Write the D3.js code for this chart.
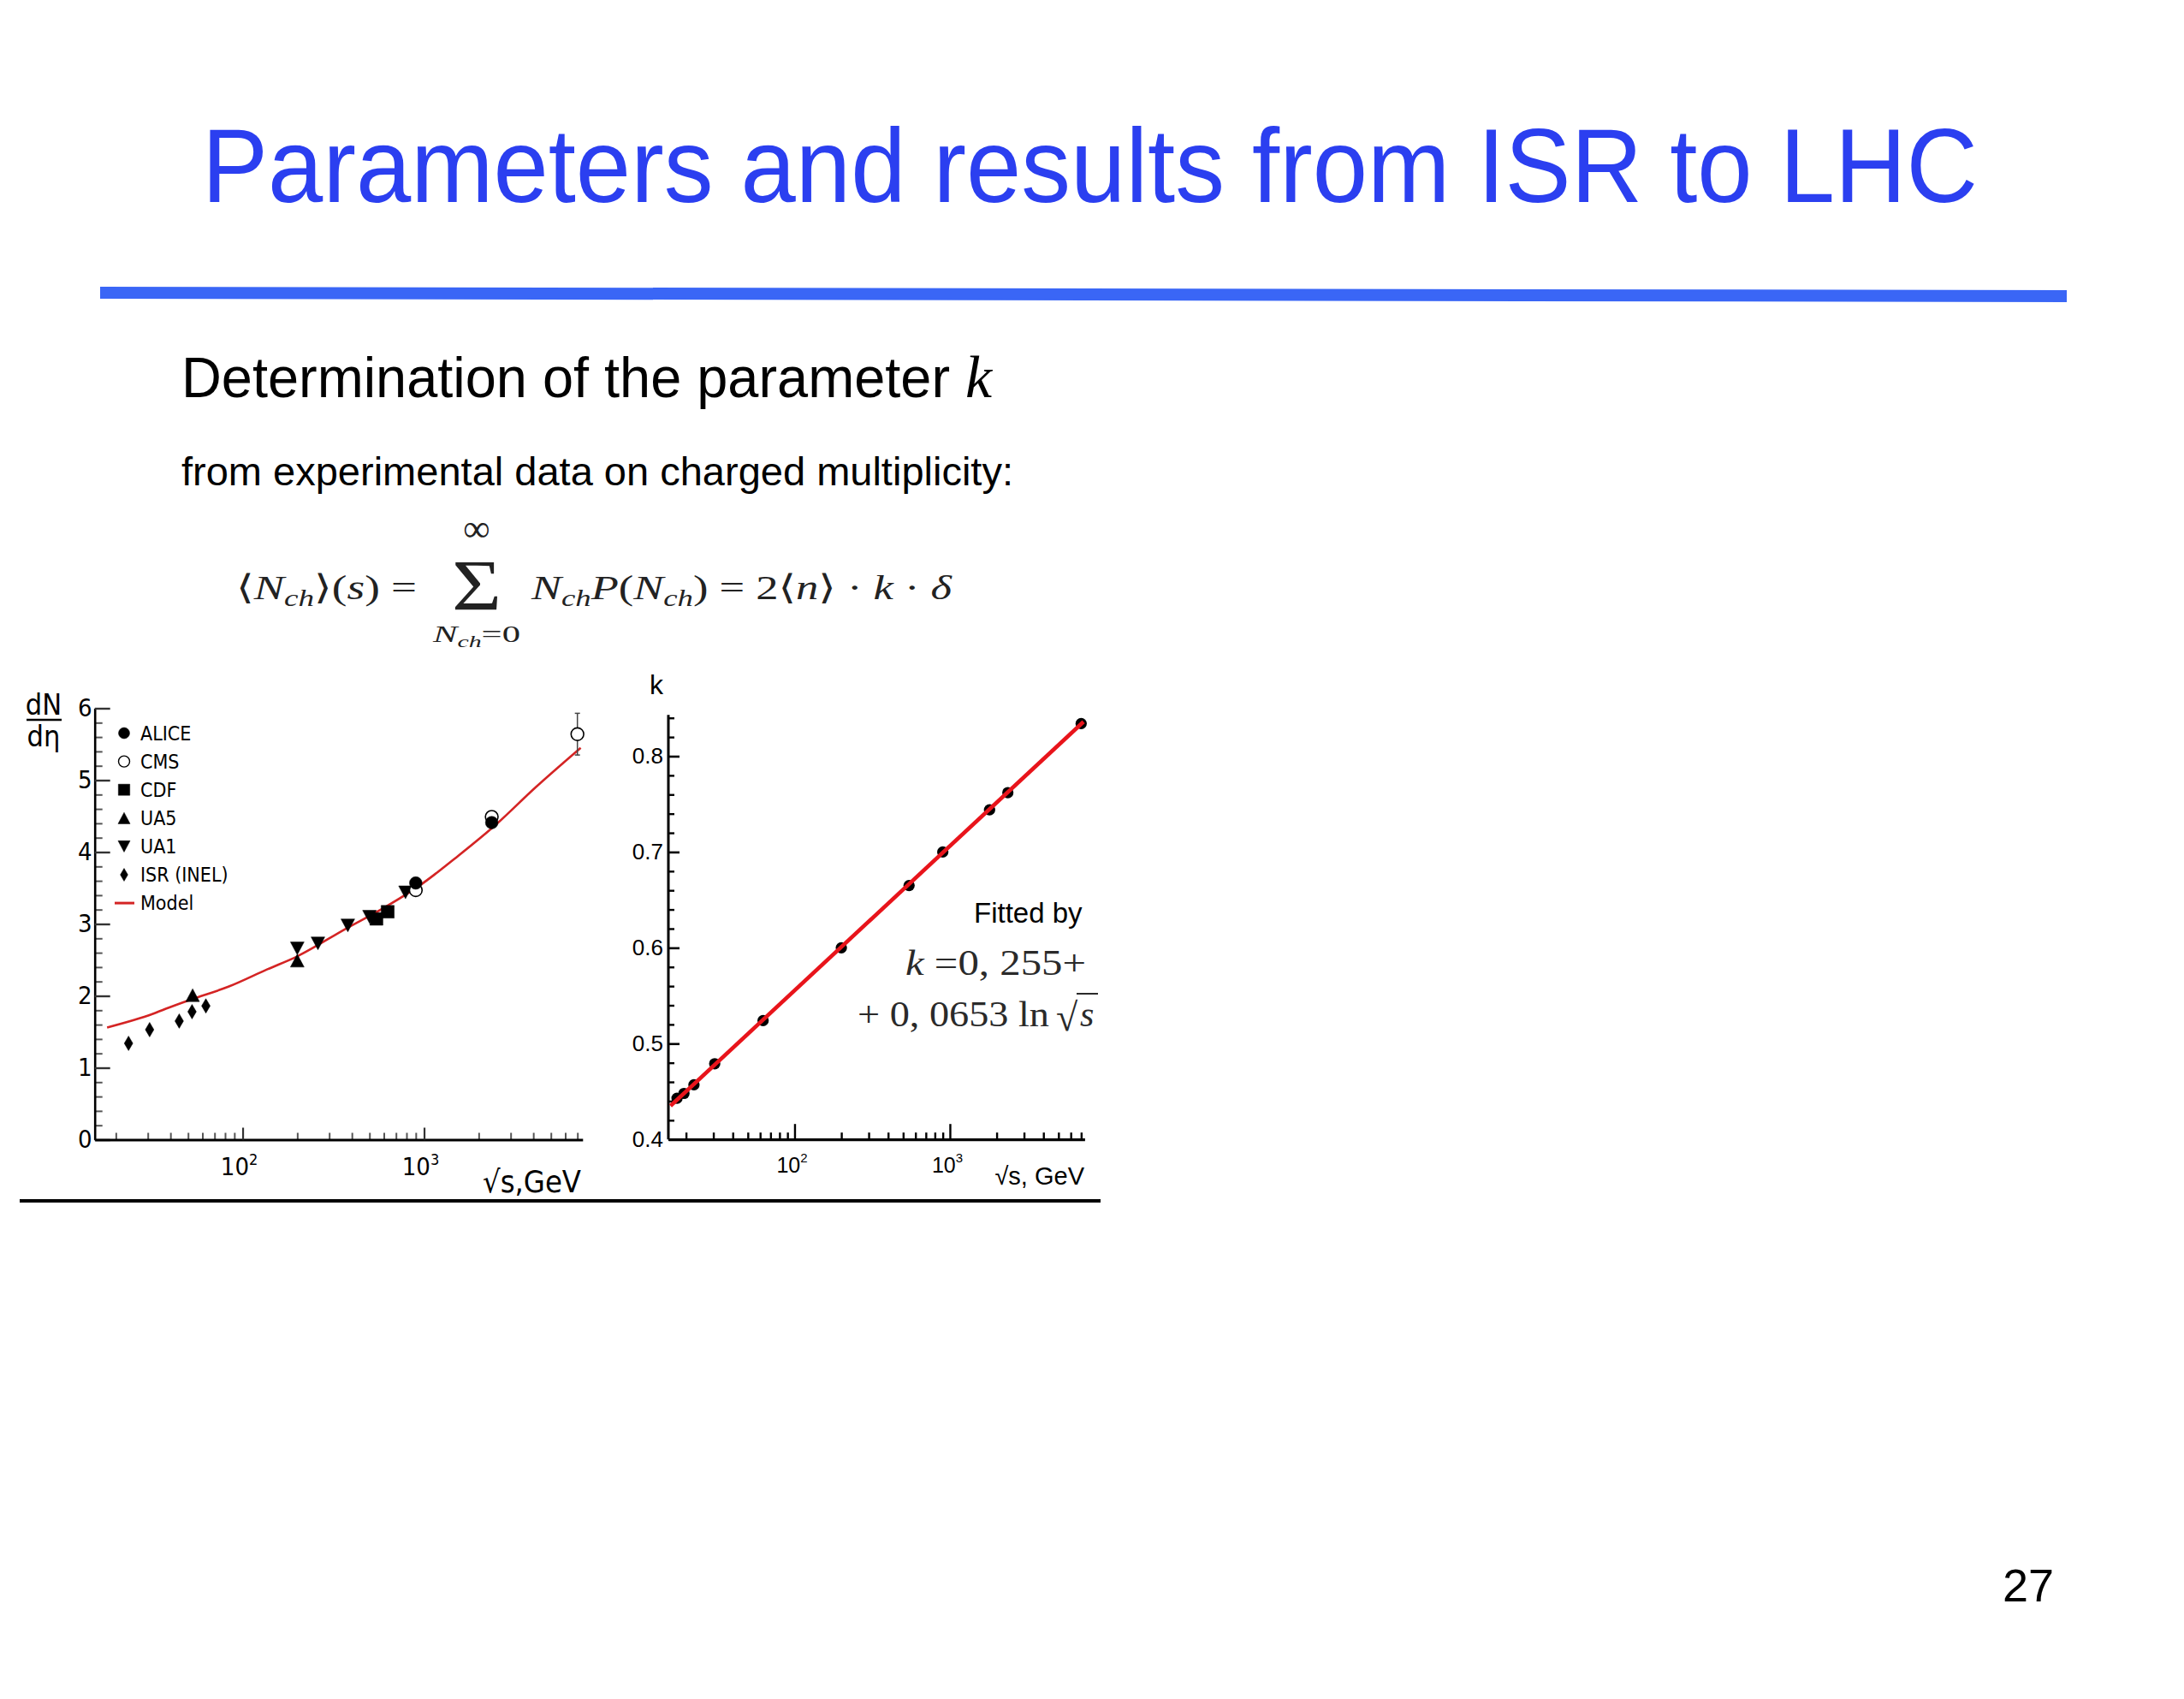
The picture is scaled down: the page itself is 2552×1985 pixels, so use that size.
<!DOCTYPE html>
<html><head><meta charset="utf-8">
<script src="https://cdn.jsdelivr.net/npm/d3@7"></script>
<style>
body{margin:0;background:#fff;}
svg{display:block;}
.cond{font-family:"DejaVu Sans Condensed","DejaVu Sans",sans-serif;font-stretch:condensed;}
.ar{font-family:"Liberation Sans",Arial,sans-serif;}
.sr{font-family:"Liberation Serif","DejaVu Serif",serif;}
</style></head><body>
<svg id="c" width="2552" height="1985"></svg>
<script>
// ---------- data: left chart (dN/deta vs sqrt(s)) ----------
const isrE = [23.5, 30.7, 44.7, 52.6, 62.7];
const isrV = [1.34, 1.53, 1.65, 1.78, 1.86];
const ua5E = [53, 200];
const ua5V = [2.01, 2.49];
const ua1E = [200, 260, 380, 500, 790];
const ua1V = [2.66, 2.73, 2.98, 3.10, 3.44];
const cdfE = [546, 630];
const cdfV = [3.07, 3.17];
const cmsE = [900, 2360, 7000];
const cmsV = [3.47, 4.49, 5.64];
const cmsErr = [0, 0, 0.29];
const aliceE = [900, 2360];
const aliceV = [3.57, 4.41];
const modelE = [17.9, 32, 39.5, 52, 84, 137, 200, 374, 587, 952, 1546, 2510, 4075, 7300];
const modelV = [1.56, 1.75, 1.84, 1.95, 2.13, 2.37, 2.55, 2.94, 3.21, 3.54, 3.95, 4.39, 4.89, 5.45];
const legendLabels = ["ALICE", "CMS", "CDF", "UA5", "UA1", "ISR (INEL)", "Model"];
const yTicksL = [0, 1, 2, 3, 4, 5, 6];
const yMinorL = [0.2,0.4,0.6,0.8,1.2,1.4,1.6,1.8,2.2,2.4,2.6,2.8,3.2,3.4,3.6,3.8,4.2,4.4,4.6,4.8,5.2,5.4,5.6,5.8];
// ---------- data: right chart (k vs sqrt(s)) ----------
const kE = [17.5, 19.4, 22.5, 30.6, 62.7, 200, 546, 900, 1800, 2360, 7000];
const kV = [0.443, 0.448, 0.457, 0.479, 0.524, 0.600, 0.665, 0.700, 0.744, 0.762, 0.834];
const fitE = [15.9, 7250];
const fitV = [0.435, 0.836];
const yTicksR = [0.4, 0.5, 0.6, 0.7, 0.8];
const yMinorR = [0.42,0.44,0.46,0.48,0.52,0.54,0.56,0.58,0.62,0.64,0.66,0.68,0.72,0.74,0.76,0.78,0.82,0.84];
// ---------- shared log x ticks ----------
const xMajor = [100, 1000];
const xMajorExp = ["2", "3"];
const xMinor = [20,30,40,50,60,70,80,90,200,300,400,500,600,700,800,900,2000,3000,4000,5000,6000,7000];

const svg = d3.select("#c");

// ---------- slide header ----------
svg.append("text").attr("x", 236).attr("y", 236).attr("class","ar")
  .attr("font-size", 122).attr("fill", "#2b3ff0")
  .attr("textLength", 2075).attr("lengthAdjust","spacingAndGlyphs")
  .text("Parameters and results from ISR to LHC");
svg.append("path").attr("d","M117,335 L2415,339 L2415,353 L117,349 Z").attr("fill","#3a66f6");

svg.append("text").attr("x", 212).attr("y", 464).attr("class","ar")
  .attr("font-size", 66).attr("fill","#000")
  .attr("textLength", 898).attr("lengthAdjust","spacingAndGlyphs")
  .text("Determination of the parameter");
svg.append("text").attr("x", 1128).attr("y", 464).attr("class","sr")
  .attr("font-size", 70).attr("font-style","italic").text("k");
svg.append("text").attr("x", 212).attr("y", 567).attr("class","ar")
  .attr("font-size", 47).attr("fill","#000")
  .attr("textLength", 972).attr("lengthAdjust","spacingAndGlyphs")
  .text("from experimental data on charged multiplicity:");

// formula
const fcol = "#222";
function ftext(parent, x, y, size, parts, len){
  const t = parent.append("text").attr("x", x).attr("y", y).attr("class","sr")
    .attr("font-size", size).attr("fill", fcol);
  parts.forEach(p => {
    const s = t.append("tspan").text(p.t).attr("font-size", size * (p.sz || 1));
    if (p.i) s.attr("font-style","italic");
    if (p.dy) s.attr("dy", p.dy);
  });
  if (len) t.attr("textLength", len).attr("lengthAdjust","spacingAndGlyphs");
  return t;
}
ftext(svg, 276, 700, 40, [
  {t:"⟨"},{t:"N",i:1},{t:"ch",i:1,sz:0.7,dy:8},{t:"⟩(",dy:-8},{t:"s",i:1},{t:") ="}
], 211);
svg.append("text").attr("x", 528).attr("y", 713).attr("class","sr").attr("font-size", 84)
  .attr("textLength", 58).attr("lengthAdjust","spacingAndGlyphs")
  .attr("fill", fcol).text("Σ");
svg.append("text").attr("x", 557).attr("y", 632).attr("class","sr").attr("font-size", 44)
  .attr("text-anchor","middle").attr("fill", fcol).text("∞");
ftext(svg, 506, 750, 28, [{t:"N",i:1},{t:"ch",i:1,sz:0.7,dy:6},{t:"=0",dy:-6}], 102);
ftext(svg, 621, 700, 40, [
  {t:"N",i:1},{t:"ch",i:1,sz:0.7,dy:8},{t:"P",i:1,dy:-8},{t:"("},{t:"N",i:1},{t:"ch",i:1,sz:0.7,dy:8},
  {t:")",dy:-8},{t:"  = 2⟨"},{t:"n",i:1},{t:"⟩ · "},{t:"k",i:1},{t:" · "},{t:"δ",i:1}
], 491);

// ---------- left chart ----------
const xL = d3.scaleLog().domain([15.3, 7480]).range([110.7, 680.8]);
const yL = d3.scaleLinear().domain([0, 6]).range([1331.5, 827.5]);
const gL = svg.append("g");

// y axis
gL.append("g").attr("transform",`translate(${xL.range()[0]},0)`)
  .call(d3.axisLeft(yL).tickValues(yMinorL).tickSize(-9).tickFormat(""))
  .call(g => { g.select(".domain").remove(); g.selectAll("line").attr("stroke","#555").attr("stroke-width",2); });
gL.append("g").attr("transform",`translate(${xL.range()[0]},0)`)
  .call(d3.axisLeft(yL).tickValues(yTicksL).tickSize(-18).tickSizeOuter(0).tickPadding(3).tickFormat(d3.format("d")))
  .call(g => {
    g.select(".domain").attr("stroke","#000").attr("stroke-width",2.6);
    g.selectAll("line").attr("stroke","#333").attr("stroke-width",2.4);
    g.selectAll("text").attr("class","cond").attr("font-size",29).attr("fill","#000");
  });
// x axis
gL.append("g").attr("transform",`translate(0,${yL.range()[0]})`)
  .call(d3.axisBottom(xL).tickValues(xMinor).tickSize(-8).tickFormat(""))
  .call(g => { g.select(".domain").remove(); g.selectAll("line").attr("stroke","#555").attr("stroke-width",2); });
gL.append("g").attr("transform",`translate(0,${yL.range()[0]})`)
  .call(d3.axisBottom(xL).tickValues(xMajor).tickSize(-14).tickSizeOuter(0).tickFormat(""))
  .call(g => {
    g.select(".domain").attr("stroke","#000").attr("stroke-width",3);
    g.selectAll("line").attr("stroke","#333").attr("stroke-width",2.2);
  });
xMajor.forEach((v, i) => {
  const t = gL.append("text").attr("class","cond").attr("x", xL(v) - 4).attr("y", 1373)
    .attr("font-size", 29).attr("text-anchor","middle").attr("fill","#000");
  t.append("tspan").text("10");
  t.append("tspan").attr("font-size", 18).attr("dy", -12).text(xMajorExp[i]);
});
gL.append("text").attr("class","cond").attr("x", 679).attr("y", 1393).attr("font-size", 36)
  .attr("text-anchor","end").attr("fill","#000").text("√s,GeV");
// dN/deta label
gL.append("text").attr("class","cond").attr("x", 51).attr("y", 835).attr("font-size", 34)
  .attr("text-anchor","middle").text("dN");
gL.append("line").attr("x1", 31).attr("x2", 72).attr("y1", 841).attr("y2", 841)
  .attr("stroke","#000").attr("stroke-width", 2.5);
gL.append("text").attr("class","cond").attr("x", 51).attr("y", 872).attr("font-size", 34)
  .attr("text-anchor","middle").text("dη");

// marker shapes
const shapes = {
  circle: s => d3.arc()({innerRadius:0, outerRadius:7.4*s, startAngle:0, endAngle:2*Math.PI}),
  square: s => `M${-7.6*s},${-7.4*s}h${15.2*s}v${14.8*s}h${-15.2*s}Z`,
  up: s => `M${-8*s},${7.5*s}L${8*s},${7.5*s}L0,${-7.5*s}Z`,
  down: s => `M${-8*s},${-7.5*s}L${8*s},${-7.5*s}L0,${7.5*s}Z`,
  diamond: s => `M0,${-8.5*s}L${5*s},0L0,${8.5*s}L${-5*s},0Z`
};
function series(E, V, shape, open){
  gL.append("g").selectAll("path").data(E.map((e,i)=>[e,V[i]])).join("path")
    .attr("transform", d => `translate(${xL(d[0])},${yL(d[1])})`)
    .attr("d", shapes[shape](1))
    .attr("fill", open ? "#fff" : "#000")
    .attr("stroke","#000").attr("stroke-width", open ? 1.6 : 0.5);
}
// model curve
gL.append("path").datum(modelE.map((e,i)=>[e,modelV[i]]))
  .attr("d", d3.line().x(d=>xL(d[0])).y(d=>yL(d[1])).curve(d3.curveMonotoneX))
  .attr("fill","none").attr("stroke","#d42424").attr("stroke-width",2.6);
// CMS error bars
gL.append("g").selectAll("g").data(cmsE.map((e,i)=>[e,cmsV[i],cmsErr[i]]).filter(d=>d[2]>0)).join("g")
  .each(function(d){
    const g = d3.select(this), x = xL(d[0]);
    g.append("line").attr("x1",x).attr("x2",x).attr("y1",yL(d[1]+d[2])).attr("y2",yL(d[1]-d[2]))
      .attr("stroke","#444").attr("stroke-width",1.5);
    [d[1]+d[2], d[1]-d[2]].forEach(v => g.append("line").attr("x1",x-3).attr("x2",x+3)
      .attr("y1",yL(v)).attr("y2",yL(v)).attr("stroke","#444").attr("stroke-width",1.5));
  });
series(isrE, isrV, "diamond");
series(ua5E, ua5V, "up");
series(ua1E, ua1V, "down");
series(cdfE, cdfV, "square");
series(cmsE, cmsV, "circle", true);
series(aliceE, aliceV, "circle");

// legend
const legShapes = ["circle","circle","square","up","down","diamond","line"];
const legOpen = [false,true,false,false,false,false,false];
const leg = gL.append("g");
legendLabels.forEach((lab, i) => {
  const y = 856.5 + i * 33.1;
  if (legShapes[i] === "line") {
    leg.append("line").attr("x1",134).attr("x2",157).attr("y1",y).attr("y2",y)
      .attr("stroke","#d42424").attr("stroke-width",3);
  } else {
    leg.append("path").attr("transform",`translate(145,${y})`).attr("d", shapes[legShapes[i]](0.88))
      .attr("fill", legOpen[i] ? "#fff" : "#000").attr("stroke","#000").attr("stroke-width", legOpen[i]?1.4:0.5);
  }
  leg.append("text").attr("class","cond").attr("x",164).attr("y", y + 8.3)
    .attr("font-size", 23).attr("fill","#000").text(lab);
});

// ---------- right chart ----------
const xR = d3.scaleLog().domain([15.4, 7370]).range([781, 1267.4]);
const yR = d3.scaleLinear().domain([0.4, 0.8]).range([1331.2, 883.5]);
const gR = svg.append("g");
gR.append("g").attr("transform",`translate(${xR.range()[0]},0)`)
  .call(d3.axisLeft(yR).tickValues(yMinorR).tickSize(-7).tickFormat(""))
  .call(g => { g.select(".domain").remove(); g.selectAll("line").attr("stroke","#000").attr("stroke-width",2.4); });
gR.append("g").attr("transform",`translate(${xR.range()[0]},0)`)
  .call(d3.axisLeft(yR).tickValues(yTicksR).tickSize(-13).tickSizeOuter(0).tickPadding(6).tickFormat(d3.format(".1f")))
  .call(g => {
    g.select(".domain").remove();
    g.selectAll("line").attr("stroke","#000").attr("stroke-width",2.6);
    g.selectAll("text").attr("class","ar").attr("font-size",26).attr("fill","#000");
  });
gR.append("line").attr("x1", xR.range()[0]).attr("x2", xR.range()[0])
  .attr("y1", yR(0.4)).attr("y2", yR(0.843)).attr("stroke","#000").attr("stroke-width",3);
gR.append("g").attr("transform",`translate(0,${yR(0.4)})`)
  .call(d3.axisBottom(xR).tickValues(xMinor).tickSize(-8).tickFormat(""))
  .call(g => { g.select(".domain").remove(); g.selectAll("line").attr("stroke","#000").attr("stroke-width",2.4); });
gR.append("g").attr("transform",`translate(0,${yR(0.4)})`)
  .call(d3.axisBottom(xR).tickValues(xMajor).tickSize(-18).tickSizeOuter(0).tickFormat(""))
  .call(g => {
    g.select(".domain").attr("stroke","#000").attr("stroke-width",3.2);
    g.selectAll("line").attr("stroke","#000").attr("stroke-width",2.4);
  });
xMajor.forEach((v, i) => {
  const t = gR.append("text").attr("class","ar").attr("x", xR(v) - 3).attr("y", 1370)
    .attr("font-size", 25).attr("text-anchor","middle").attr("fill","#000");
  t.append("tspan").text("10");
  t.append("tspan").attr("font-size", 15).attr("dy", -12).text(xMajorExp[i]);
});
gR.append("text").attr("class","ar").attr("x", 1267).attr("y", 1384).attr("font-size", 29)
  .attr("text-anchor","end").attr("fill","#000").text("√s, GeV");
gR.append("text").attr("class","ar").attr("x", 759).attr("y", 811).attr("font-size", 32)
  .attr("fill","#000").text("k");
// points then fit line on top
gR.append("g").selectAll("circle").data(kE.map((e,i)=>[e,kV[i]])).join("circle")
  .attr("cx", d=>xR(d[0])).attr("cy", d=>yR(d[1])).attr("r", 6.6).attr("fill","#000");
gR.append("path").datum(fitE.map((e,i)=>[e,fitV[i]]))
  .attr("d", d3.line().x(d=>xR(d[0])).y(d=>yR(d[1])))
  .attr("fill","none").attr("stroke","#e8141b").attr("stroke-width",4.6);
// fit annotation
gR.append("text").attr("class","ar").attr("x", 1138).attr("y", 1078).attr("font-size", 33)
  .attr("fill","#000").text("Fitted by");
ftext(gR, 1058, 1139, 42, [{t:"k",i:1},{t:" =0, 255+"}], 211).attr("fill","#2a2a2a");
ftext(gR, 1002, 1199, 42, [{t:"+ 0, 0653 ln"}], 224).attr("fill","#2a2a2a");
gR.append("text").attr("class","sr").attr("x", 1234).attr("y", 1204).attr("font-size", 46)
  .attr("fill","#2a2a2a").text("√");
gR.append("line").attr("x1", 1258).attr("x2", 1283).attr("y1", 1161).attr("y2", 1161)
  .attr("stroke","#2a2a2a").attr("stroke-width", 2);
gR.append("text").attr("class","sr").attr("x", 1262).attr("y", 1199).attr("font-size", 42)
  .attr("font-style","italic").attr("fill","#2a2a2a").text("s");

// bottom rule
svg.append("rect").attr("x", 23).attr("y", 1401).attr("width", 1263).attr("height", 4).attr("fill","#000");
// page number
svg.append("text").attr("class","ar").attr("x", 2340).attr("y", 1871).attr("font-size", 54)
  .attr("fill","#000").text("27");
</script>
</body></html>
